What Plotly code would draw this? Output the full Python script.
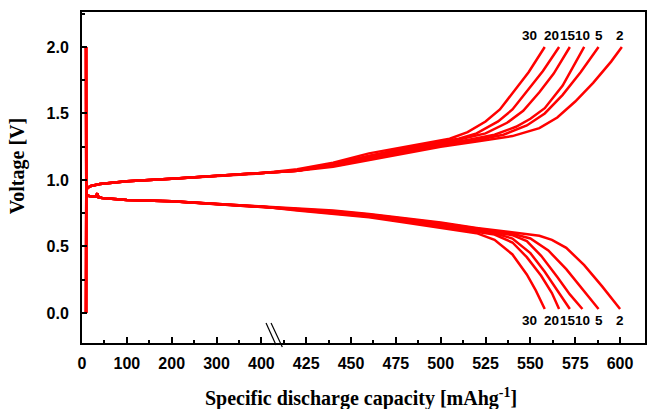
import numpy as np
import plotly.graph_objects as go

# ---------------- data (capacity in mAh/g, voltage in V) ----------------
cycles = [2, 5, 10, 15, 20, 30]

# shared first part of every charge curve (curves overlap there)
chg_head_cap = [9, 9, 9.5, 12, 20, 40, 100, 200, 300, 400]
chg_head_v = [0.0, 0.60, 0.92, 0.94, 0.955, 0.97, 0.99, 1.01, 1.03, 1.05]

# shared first part of every discharge curve
dis_head_cap = [9, 9, 9.5, 11, 16, 25, 31, 34, 37, 45, 100, 200, 300, 400]
dis_head_v = [2.0, 1.30, 0.92, 0.89, 0.88, 0.875, 0.875, 0.90, 0.87, 0.865, 0.85, 0.84, 0.82, 0.80]

# charge tails (upper curves)
chg_cap_2 = [420, 440, 460, 480, 500, 520, 540, 555, 565, 575, 585, 595, 601]
chg_v_2 = [1.07, 1.10, 1.15, 1.20, 1.25, 1.29, 1.33, 1.39, 1.47, 1.59, 1.73, 1.89, 2.00]
chg_cap_5 = [420, 440, 460, 480, 500, 520, 535, 548, 558, 568, 578, 588]
chg_v_5 = [1.07, 1.11, 1.16, 1.21, 1.26, 1.30, 1.34, 1.41, 1.50, 1.64, 1.81, 2.00]
chg_cap_10 = [420, 440, 460, 480, 500, 515, 530, 542, 550, 558, 568, 580]
chg_v_10 = [1.07, 1.11, 1.17, 1.22, 1.27, 1.30, 1.34, 1.40, 1.46, 1.54, 1.71, 2.00]
chg_cap_15 = [420, 440, 460, 480, 500, 512, 525, 537, 546, 555, 563, 572]
chg_v_15 = [1.07, 1.12, 1.18, 1.23, 1.28, 1.31, 1.35, 1.43, 1.52, 1.66, 1.80, 2.00]
chg_cap_20 = [420, 440, 460, 480, 500, 510, 520, 532, 540, 549, 557, 566]
chg_v_20 = [1.07, 1.12, 1.18, 1.24, 1.29, 1.31, 1.35, 1.44, 1.53, 1.68, 1.82, 2.00]
chg_cap_30 = [420, 440, 460, 480, 495, 505, 515, 525, 533, 541, 549, 558]
chg_v_30 = [1.08, 1.13, 1.20, 1.25, 1.29, 1.31, 1.36, 1.44, 1.53, 1.67, 1.81, 2.00]

# discharge tails (lower curves)
dis_cap_2 = [420, 440, 460, 480, 500, 520, 540, 555, 562, 570, 580, 590, 600]
dis_v_2 = [0.785, 0.77, 0.745, 0.715, 0.68, 0.64, 0.605, 0.58, 0.55, 0.49, 0.36, 0.20, 0.03]
dis_cap_5 = [420, 440, 460, 480, 500, 520, 540, 550, 560, 570, 580, 588]
dis_v_5 = [0.785, 0.765, 0.74, 0.71, 0.675, 0.635, 0.595, 0.56, 0.47, 0.33, 0.16, 0.03]
dis_cap_10 = [420, 440, 460, 480, 500, 520, 540, 548, 556, 565, 572, 579]
dis_v_10 = [0.78, 0.76, 0.735, 0.705, 0.665, 0.625, 0.585, 0.54, 0.43, 0.27, 0.14, 0.03]
dis_cap_15 = [420, 440, 460, 480, 500, 515, 530, 540, 550, 558, 565, 572]
dis_v_15 = [0.78, 0.755, 0.73, 0.695, 0.655, 0.625, 0.60, 0.56, 0.45, 0.31, 0.17, 0.03]
dis_cap_20 = [420, 440, 460, 480, 500, 515, 530, 540, 548, 556, 562, 566]
dis_v_20 = [0.775, 0.75, 0.725, 0.69, 0.65, 0.62, 0.59, 0.53, 0.42, 0.28, 0.15, 0.03]
dis_cap_30 = [420, 440, 460, 480, 500, 510, 520, 530, 540, 548, 553, 558]
dis_v_30 = [0.77, 0.745, 0.72, 0.68, 0.64, 0.62, 0.60, 0.55, 0.44, 0.29, 0.17, 0.03]

# axis ticks
tick_caps = [0, 100, 200, 300, 400, 425, 450, 475, 500, 525, 550, 575, 600]
tick_labels = [str(t) for t in tick_caps]
minor_caps = [50, 150, 250, 350, 412.5, 437.5, 462.5, 487.5, 512.5, 537.5, 562.5, 587.5]

# cycle labels (capacity position of each label)
label_texts = ["30", "20", "15", "10", "5", "2"]
label_caps = [549.5, 562, 571, 579, 588, 600]


# ---------------- broken axis mapping ----------------
def to_axis(cap):
    cap = np.asarray(cap, dtype=float)
    return np.where(cap <= 400, cap / 4.0, 100.0 + (cap - 400.0))


chg = {2: (chg_cap_2, chg_v_2), 5: (chg_cap_5, chg_v_5), 10: (chg_cap_10, chg_v_10),
       15: (chg_cap_15, chg_v_15), 20: (chg_cap_20, chg_v_20), 30: (chg_cap_30, chg_v_30)}
dis = {2: (dis_cap_2, dis_v_2), 5: (dis_cap_5, dis_v_5), 10: (dis_cap_10, dis_v_10),
       15: (dis_cap_15, dis_v_15), 20: (dis_cap_20, dis_v_20), 30: (dis_cap_30, dis_v_30)}

RED = "#ff0000"
fig = go.Figure()
for c in cycles:
    cc, cv = chg[c]
    dc, dv = dis[c]
    fig.add_trace(go.Scatter(x=to_axis(chg_head_cap + cc), y=chg_head_v + cv, mode="lines",
                             line=dict(color=RED, width=2.5), name=f"charge {c}",
                             showlegend=False))
    fig.add_trace(go.Scatter(x=to_axis(dis_head_cap + dc), y=dis_head_v + dv, mode="lines",
                             line=dict(color=RED, width=2.5), name=f"discharge {c}",
                             showlegend=False))

tickfont = dict(family="Liberation Sans, Arial", size=16, color="black", weight="bold")

annotations = []
for t, c in zip(label_texts, label_caps):
    for yy in (2.09, -0.055):
        annotations.append(dict(x=float(to_axis(c)), y=yy, xref="x", yref="y", text=t,
                                showarrow=False, font=dict(family="Liberation Sans, Arial",
                                                           size=13.5, color="black", weight="bold"),
                                xanchor="center", yanchor="middle"))

titlefont = dict(family="Liberation Serif, Times New Roman", size=20, color="black", weight="bold")
annotations.append(dict(x=0.4956, y=-0.166, xref="paper", yref="paper",
                        text="Specific discharge capacity [mAhg<sup>-1</sup>]",
                        showarrow=False, font=titlefont, xanchor="center", yanchor="middle"))
annotations.append(dict(x=-0.113, y=0.535, xref="paper", yref="paper", text="Voltage [V]",
                        textangle=-90, showarrow=False, font=titlefont,
                        xanchor="center", yanchor="middle"))

shapes = [
    dict(type="line", xref="paper", yref="paper", x0=0.3269, y0=0.0604, x1=0.3446, y1=-0.006,
         line=dict(color="black", width=1.2)),
    dict(type="line", xref="paper", yref="paper", x0=0.3358, y0=0.0604, x1=0.3558, y1=-0.012,
         line=dict(color="black", width=1.2)),
]

fig.update_layout(
    width=651, height=409,
    margin=dict(l=82, r=4, t=12, b=66),
    paper_bgcolor="white", plot_bgcolor="white",
    showlegend=False,
    annotations=annotations,
    shapes=shapes,
)
fig.update_xaxes(
    range=[0, 313.9], showgrid=False, zeroline=False,
    showline=True, linecolor="black", linewidth=2, mirror=True,
    tickmode="array", tickvals=to_axis(tick_caps).tolist(), ticktext=tick_labels,
    ticks="inside", ticklen=6, tickwidth=1.5, tickcolor="black",
    tickfont=tickfont, ticklabelstandoff=5,
    minor=dict(tickvals=to_axis(minor_caps).tolist(), ticks="inside", ticklen=3,
               tickwidth=1.5, tickcolor="black", showgrid=False),
)
fig.update_yaxes(
    range=[-0.2256, 2.263], showgrid=False, zeroline=False,
    showline=True, linecolor="black", linewidth=2, mirror=True,
    tickmode="linear", tick0=0, dtick=0.5, tickformat=".1f",
    ticks="inside", ticklen=5, tickwidth=1.5, tickcolor="black",
    tickfont=tickfont, ticklabelstandoff=8,
    minor=dict(dtick=0.25, ticks="inside", ticklen=3, tickwidth=1.5, tickcolor="black",
               showgrid=False),
)

fig.write_html("out.html", config={"displayModeBar": False},
               post_script="document.body.style.margin='0';")
